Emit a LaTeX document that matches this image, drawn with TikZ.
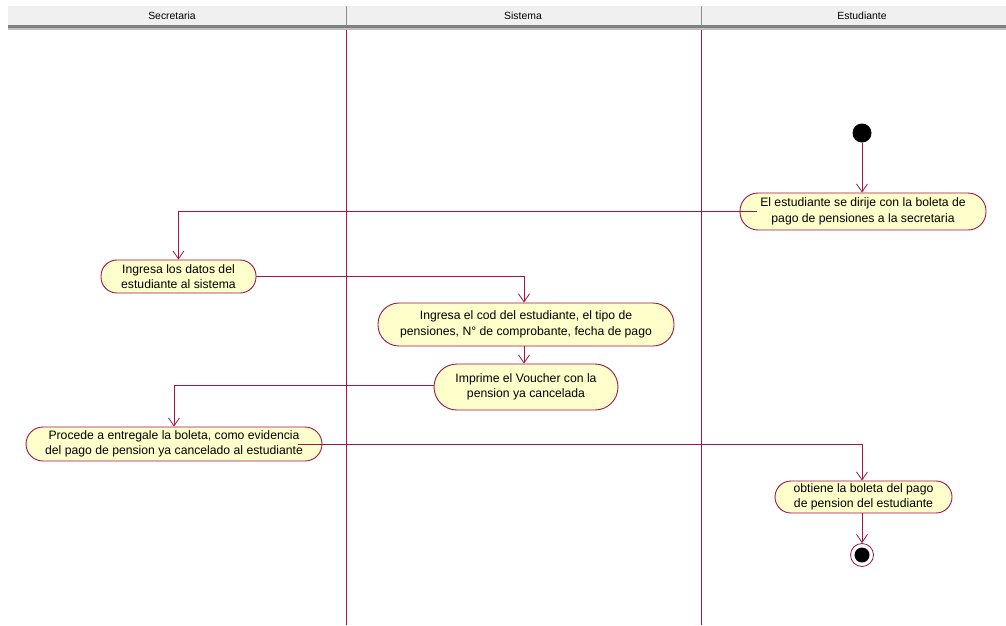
\documentclass[tikz,border=0pt]{standalone}
\usepackage{fontspec}
\setmainfont{Liberation Sans}
\usetikzlibrary{arrows.meta}
\definecolor{uml}{RGB}{160,20,70}
\definecolor{actfill}{RGB}{255,255,204}
\definecolor{hdr}{RGB}{240,240,240}
\tikzset{
  act/.style={draw=uml, fill=actfill, line width=0.9pt, align=center, inner sep=0pt,
    font=\fontsize{12.2}{15.5}\selectfont},
  flow/.style={draw=uml, line width=0.8pt, -{Straight Barb[length=8pt,width=11pt,line width=0.8pt]}},
  lane/.style={draw=uml, line width=0.8pt},
  hdrtext/.style={font=\fontsize{10.4}{12}\selectfont, inner sep=0pt},
}
\begin{document}
\begin{tikzpicture}[x=1pt,y=-1pt]
\useasboundingbox (0,0) rectangle (1006,625);
\fill[white] (0,0) rectangle (1006,625);
% header
\fill[hdr] (8,6) rectangle (1006,25);
\fill[black!50] (8,25) rectangle (1006,28);
\fill[black!25] (8,28) rectangle (1006,30);
\draw[black!45, line width=0.8pt] (346,6) -- (346,25);
\draw[black!45, line width=0.8pt] (701,6) -- (701,25);
\node[hdrtext] (h1) at (172,16) {Secretaria};
\node[hdrtext] (h2) at (523,16) {Sistema};
\node[hdrtext] (h3) at (862,16) {Estudiante};
% lanes
\draw[lane] (346,30) -- (346,625);
\draw[lane] (701,30) -- (701,625);
% nodes
\node[circle, fill=black, minimum size=19pt, inner sep=0pt] (start) at (862,133) {};
\node[act, minimum width=246pt, minimum height=37pt, rounded corners=18pt] (a1) at (863,211.5)
  {El estudiante se dirije con la boleta de\\pago de pensiones a la secretaria};
\node[act, minimum width=155pt, minimum height=33pt, rounded corners=16pt] (a2) at (178.5,276.5)
  {Ingresa los datos del\\estudiante al sistema};
\node[act, minimum width=296pt, minimum height=43pt, rounded corners=21pt] (a3) at (526,324.5)
  {Ingresa el cod del estudiante, el tipo de\\pensiones, N° de comprobante, fecha de pago};
\node[act, minimum width=184pt, minimum height=46pt, rounded corners=23pt] (a4) at (526,387)
  {Imprime el Voucher con la\\pension ya cancelada};
\node[act, minimum width=296pt, minimum height=34pt, rounded corners=17pt] (a5) at (174,444)
  {Procede a entregale la boleta, como evidencia\\del pago de pension ya cancelado al estudiante};
\node[act, minimum width=177pt, minimum height=32pt, rounded corners=16pt] (a6) at (863.5,497)
  {obtiene la boleta del pago\\de pension del estudiante};
\node[circle, draw=uml, fill=white, line width=0.8pt, minimum size=23pt, inner sep=0pt] (endo) at (862,555) {};
\node[circle, fill=black, minimum size=15pt, inner sep=0pt] (endi) at (862,555) {};
% connectors
\draw[flow] (start) -- (a1.north -| start);
\draw[flow] ([xshift=17pt]a1.west) -| (a2.north);
\draw[flow] (a2.east) -| ([xshift=-2pt]a3.north);
\draw[flow] ([xshift=-2pt]a3.south) -- ([xshift=-2pt]a4.north);
\draw[flow] ([yshift=2pt]a4.west) -| (a5.north);
\draw[flow] ([xshift=-24pt]a5.east) -| ([xshift=-1.5pt]a6.north);
\draw[flow] ([xshift=-1.5pt]a6.south) -- (endo);
\end{tikzpicture}
\end{document}
